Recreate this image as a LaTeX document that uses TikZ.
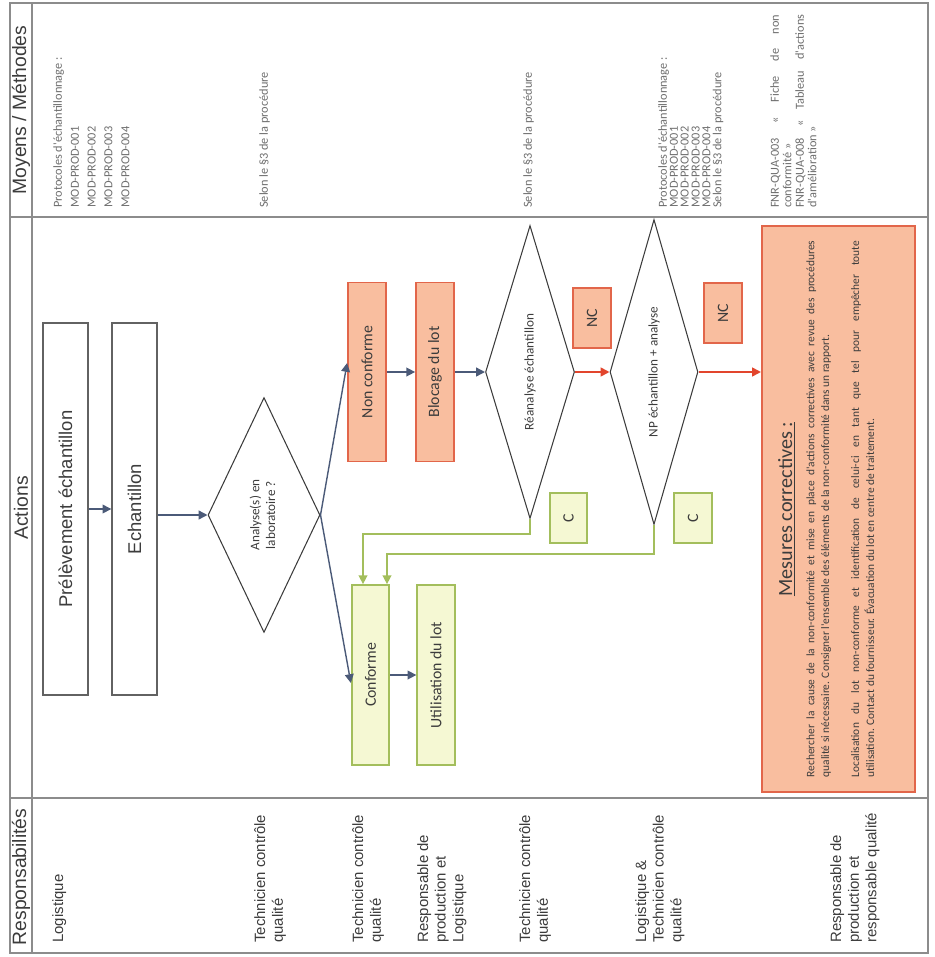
\documentclass[tikz,border=0pt]{standalone}
\usepackage{fontspec}
\setmainfont{Liberation Sans}
\newfontfamily\carlito{Carlito}
\usetikzlibrary{shapes.geometric,arrows.meta}
\definecolor{grille}{HTML}{8C8C8C}
\definecolor{ncfill}{HTML}{F9BE9F}
\definecolor{ncdraw}{HTML}{E2664A}
\definecolor{okfill}{HTML}{F5F8D3}
\definecolor{okdraw}{HTML}{A3BE5C}
\definecolor{fleche}{HTML}{4B5A78}
\definecolor{rouge}{HTML}{E2452D}
\definecolor{texte}{HTML}{3C3C3C}
\definecolor{moyen}{HTML}{6E6E6E}
\newcommand*{\rt}[1]{\rotatebox{90}{#1}}
\newcommand*{\fs}[2]{\fontsize{#1}{#2}\selectfont}
\newcommand*{\serre}{\lineskiplimit=-10pt\relax}

\begin{document}
\begin{tikzpicture}[x=0.02cm, y=-0.02cm,
    actbox/.style={draw=grille!70!black, line width=0.8pt, minimum width=0.9cm, minimum height=7.44cm, inner sep=0pt, font=\fs{10.5}{12}, text=texte},
    nokbox/.style={draw=ncdraw, fill=ncfill, line width=1pt, minimum width=0.76cm, inner sep=0pt, font=\carlito\fs{9}{11}, text=texte},
    okbox/.style={draw=okdraw, fill=okfill, line width=1pt, minimum width=0.75cm, inner sep=0pt, font=\carlito\fs{9}{11}, text=texte},
    decision/.style={diamond, draw=texte, line width=0.6pt, shape aspect=0.35, inner sep=0pt, font=\carlito\fs{7.5}{9}, text=texte},
    arr/.style={draw=fleche, line width=0.8pt, -{Triangle[length=5pt,width=5pt]}},
    redarr/.style={draw=rouge, line width=1pt, -{Triangle[length=5pt,width=5pt]}},
    grnarr/.style={draw=okdraw, line width=0.8pt, -{Triangle[length=5pt,width=5pt]}},
    resp/.style={rotate=90, anchor=north west, align=left, inner sep=0pt, font=\fs{8.5}{10}, text=texte},
    moy/.style={rotate=90, anchor=north west, align=left, inner sep=0pt, text=moyen},
    entete/.style={rotate=90, inner sep=0pt, font=\fs{11}{13}, text=texte}]
\useasboundingbox (0,0) rectangle (935,957);

% tableau
\draw[grille, line width=0.8pt] (10,3) rectangle (928,953);
\draw[grille, line width=0.8pt] (32,3) -- (32,953) (10,217) -- (928,217) (10,798) -- (928,798);
\node[entete] (hmoy) at (21,110) {Moyens / Méthodes};
\node[entete] (hact) at (21,508) {Actions};
\node[entete] (hresp) at (21,877) {Responsabilités};

\foreach \x/\txt [count=\i] in {52/{Logistique}, 254/{Technicien contrôle\\qualité},
    352/{Technicien contrôle\\qualité}, 417/{Responsable de\\production et\\Logistique},
    519/{Technicien contrôle\\qualité}, 635/{Logistique \&\\Technicien contrôle\\qualité},
    830/{Responsable de\\production et\\responsable qualité}}
  \node[resp] (resp\i) at (\x,943) {\txt};

\node[moy, font=\carlito\fs{7}{9.6}] (moy1) at (53,208) {Protocoles d'échantillonnage :\\MOD-PROD-001\\MOD-PROD-002\\MOD-PROD-003\\MOD-PROD-004};
\node[moy, font=\carlito\fs{7}{8}] (moy2) at (259,208) {Selon le §3 de la procédure};
\node[moy, font=\carlito\fs{7}{8}] (moy3) at (523,208) {Selon le §3 de la procédure};
\node[moy, font={\carlito\fs{7}{6.2}\serre}] (moy4) at (658,208) {Protocoles d'échantillonnage :\\MOD-PROD-001\\MOD-PROD-002\\MOD-PROD-003\\MOD-PROD-004\\Selon le §3 de la procédure};
\node[moy, font={\carlito\fs{7}{7.1}\serre}] (moy5) at (770,208) {\makebox[3.86cm][s]{FNR-QUA-003 « Fiche de non}\\conformité »\\\makebox[3.86cm][s]{FNR-QUA-008 « Tableau d'actions}\\d'amélioration »};

% actions
\node[actbox] (prel) at (65.5,509) {\rt{Prélèvement échantillon}};
\node[actbox] (ech) at (134.5,509) {\rt{Echantillon}};
\node[decision, minimum width=2.24cm, minimum height=4.7cm] (ana) at (264,515) {\rt{\begin{tabular}{@{}c@{}}Analyse(s) en\\laboratoire ?\end{tabular}}};
\node[nokbox, minimum height=3.58cm] (nonconf) at (367,372) {\rt{Non conforme}};
\node[nokbox, minimum height=3.58cm] (blocage) at (435,372) {\rt{Blocage du lot}};
\node[decision, minimum width=1.78cm, minimum height=5.86cm] (rean) at (530,372) {\rt{Réanalyse échantillon}};
\node[nokbox, minimum height=1.2cm] (nc1) at (592,318) {\rt{NC}};
\node[okbox, minimum height=1cm] (c1) at (568.5,518) {\rt{C}};
\node[decision, minimum width=1.76cm, minimum height=6.1cm] (np) at (654,372) {\rt{NP échantillon + analyse}};
\node[nokbox, minimum height=1.2cm] (nc2) at (723,313) {\rt{NC}};
\node[okbox, minimum height=1cm] (c2) at (693,518) {\rt{C}};
\node[okbox, minimum height=3.6cm] (conf) at (370.5,675) {\rt{Conforme}};
\node[okbox, minimum height=3.6cm] (util) at (436,675) {\rt{Utilisation du lot}};
\node[draw=ncdraw, fill=ncfill, line width=1.2pt, minimum width=3.06cm, minimum height=11.32cm] (mes) at (838.5,509) {};
\node[rotate=90, inner sep=0pt, font=\carlito\fs{11.5}{13}, text=texte] (mestitre) at (787,509) {\underline{Mesures correctives :}};
\node[rotate=90, anchor=north, inner sep=0pt, text width=10.74cm, align=justify, font=\carlito\fs{6.5}{8.5}, text=texte] (mestexte) at (806,509)
  {Rechercher la cause de la non-conformité et mise en place d'actions correctives avec revue des procédures\linebreak
   qualité si nécessaire. Consigner l'ensemble des éléments de la non-conformité dans un rapport.\par\vspace{8.5pt}
   Localisation du lot non-conforme et identification de celui-ci en tant que tel pour empêcher toute\linebreak
   utilisation. Contact du fournisseur. Évacuation du lot en centre de traitement.};

\draw[arr] (prel) -- (ech);
\draw[arr] (ana.west -| ech.east) -- (ana.west);
\draw[arr] (ana.east) -- ([yshift=0.18cm]nonconf.west);
\draw[arr] (ana.east) -- ([yshift=-0.16cm]conf.west);
\draw[arr] (nonconf) -- (blocage);
\draw[arr] (blocage) -- (rean.west);
\draw[redarr] (rean.east) -- (np.west);
\draw[redarr] (np.east) -- (np.east -| mes.west);
\draw[grnarr] (rean.south) -- ++(0,-0.3cm) -| ([xshift=-0.15cm]conf.north);
\draw[grnarr] (np.south) -- ++(0,-0.58cm) -| ([xshift=0.33cm]conf.north);
\draw[arr] (conf) -- (util);
\end{tikzpicture}
\end{document}
